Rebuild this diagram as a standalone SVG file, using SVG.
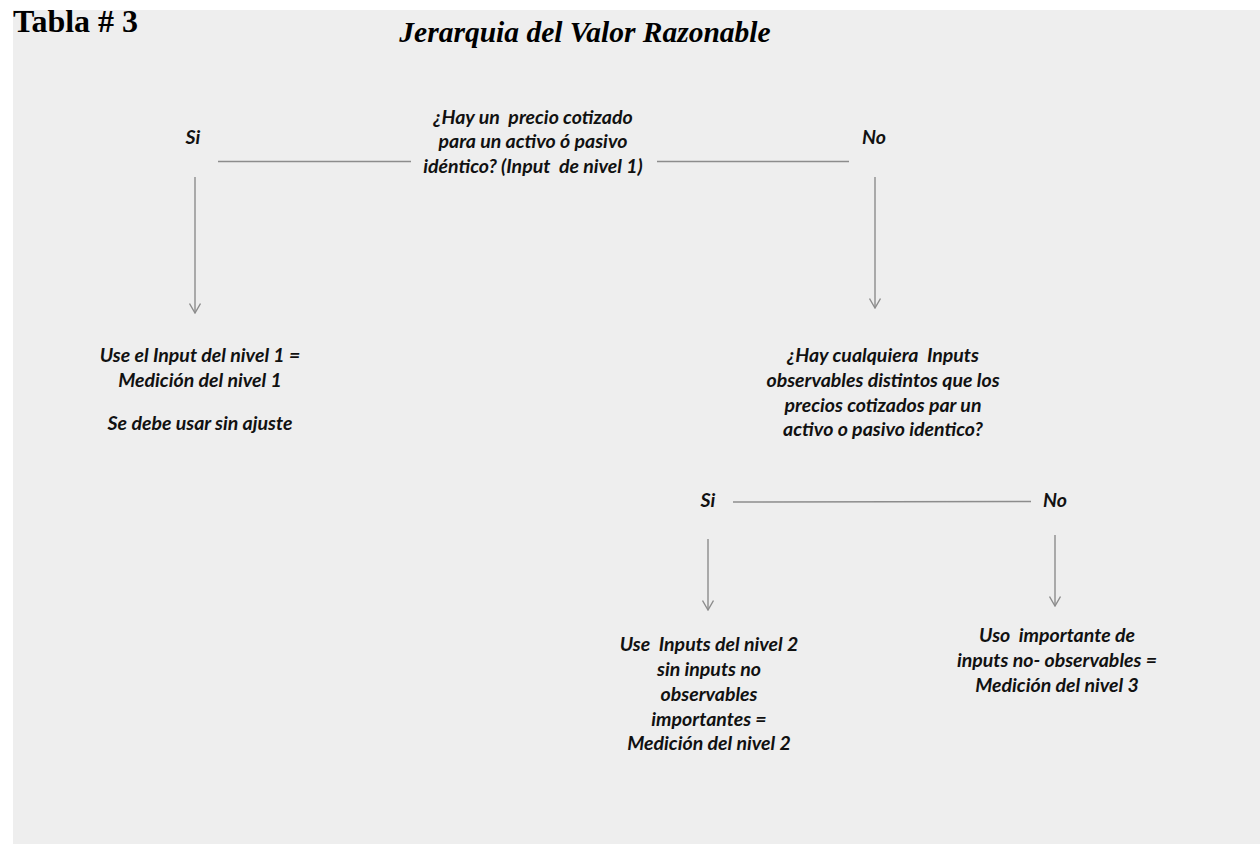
<svg xmlns="http://www.w3.org/2000/svg" width="1260" height="844" viewBox="0 0 1260 844">
  <style>
    .lbl { font-family: Lato, "Open Sans", "Liberation Sans", sans-serif; font-weight: bold; font-style: italic; font-size: 19.5px; fill: #111; text-anchor: middle; white-space: pre; }
    .head { font-family: "Liberation Serif", "Times New Roman", serif; font-weight: bold; fill: #000; }
    .conn { stroke: #8c8c8c; stroke-width: 1.4; fill: none; }
  </style>
  <defs>
    <marker id="vee" viewBox="0 0 11 12" refX="10" refY="6" markerWidth="11" markerHeight="12" markerUnits="userSpaceOnUse" orient="auto">
      <path d="M0.5,0.5 L10,6 L0.5,11.5" fill="none" stroke="#8c8c8c" stroke-width="1.4"/>
    </marker>
  </defs>

  <!-- background -->
  <rect x="0" y="0" width="1260" height="844" fill="#ffffff"/>
  <rect x="13" y="10" width="1247" height="834" fill="#eeeeee"/>

  <!-- headings -->
  <text class="head" x="13" y="32" font-size="32">Tabla # 3</text>
  <text class="head" x="585" y="42" font-size="29.5" font-style="italic" text-anchor="middle">Jerarquia del Valor Razonable</text>

  <!-- connectors -->
  <g id="connectors">
    <line class="conn" x1="218" y1="161.5" x2="411" y2="161.5"/>
    <line class="conn" x1="657" y1="161.5" x2="849" y2="161.5"/>
    <line class="conn" x1="195" y1="177" x2="195" y2="313" marker-end="url(#vee)"/>
    <line class="conn" x1="875" y1="177" x2="875" y2="308" marker-end="url(#vee)"/>
    <line class="conn" x1="733" y1="502" x2="1031" y2="501.5"/>
    <line class="conn" x1="708" y1="539" x2="708" y2="610" marker-end="url(#vee)"/>
    <line class="conn" x1="1055" y1="535" x2="1055" y2="606" marker-end="url(#vee)"/>
  </g>

  <!-- nodes -->
  <g id="q1">
    <text class="lbl" x="533" y="124">¿Hay un  precio cotizado</text>
    <text class="lbl" x="533" y="148">para un activo ó pasivo</text>
    <text class="lbl" x="533" y="173">idéntico? (Input  de nivel 1)</text>
  </g>
  <g id="q1-si">
    <text class="lbl" x="193" y="144">Si</text>
  </g>
  <g id="q1-no">
    <text class="lbl" x="874" y="144">No</text>
  </g>
  <g id="nivel1">
    <text class="lbl" x="200" y="362">Use el Input del nivel 1 =</text>
    <text class="lbl" x="200" y="387">Medición del nivel 1</text>
    <text class="lbl" x="200" y="430">Se debe usar sin ajuste</text>
  </g>
  <g id="q2">
    <text class="lbl" x="883" y="362">¿Hay cualquiera  Inputs</text>
    <text class="lbl" x="883" y="387">observables distintos que los</text>
    <text class="lbl" x="883" y="412">precios cotizados par un</text>
    <text class="lbl" x="883" y="436">activo o pasivo identico?</text>
  </g>
  <g id="q2-si">
    <text class="lbl" x="708" y="507">Si</text>
  </g>
  <g id="q2-no">
    <text class="lbl" x="1055" y="507">No</text>
  </g>
  <g id="nivel2">
    <text class="lbl" x="709" y="651">Use  Inputs del nivel 2</text>
    <text class="lbl" x="709" y="676">sin inputs no</text>
    <text class="lbl" x="709" y="701">observables</text>
    <text class="lbl" x="709" y="726">importantes =</text>
    <text class="lbl" x="709" y="750">Medición del nivel 2</text>
  </g>
  <g id="nivel3">
    <text class="lbl" x="1057" y="642">Uso  importante de</text>
    <text class="lbl" x="1057" y="667">inputs no- observables =</text>
    <text class="lbl" x="1057" y="692">Medición del nivel 3</text>
  </g>
</svg>
